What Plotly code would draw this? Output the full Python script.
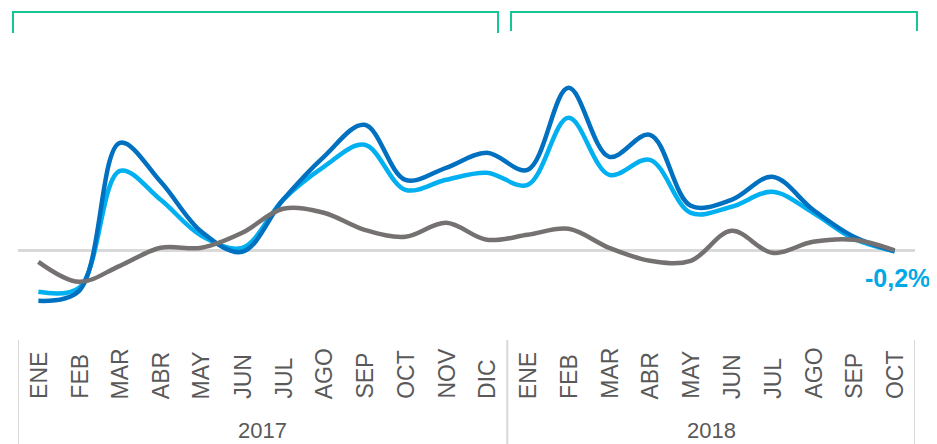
import plotly.graph_objects as go

months = ["ENE", "FEB", "MAR", "ABR", "MAY", "JUN", "JUL", "AGO", "SEP", "OCT", "NOV", "DIC",
          "ENE", "FEB", "MAR", "ABR", "MAY", "JUN", "JUL", "AGO", "SEP", "OCT"]
years = ["2017", "2018"]
months_per_year = [12, 10]

serie_oscura = [-10.1, -8.1, 21.5, 13.7, 3.7, -0.3, 10.1, 18.7, 25.1, 14.1, 16.5, 19.5,
                16.1, 32.5, 18.7, 23.1, 8.9, 10.1, 14.7, 8.1, 2.7, -0.2]
serie_clara = [-8.3, -7.5, 15.9, 10.1, 2.9, 0.5, 10.1, 16.7, 21.1, 12.1, 14.1, 15.5,
               13.1, 26.5, 15.1, 18.1, 7.5, 8.7, 11.7, 7.5, 2.3, -0.2]
serie_gris = [-2.3, -6.3, -3.1, 0.5, 0.5, 3.5, 8.3, 7.5, 4.1, 2.7, 5.5, 2.1,
              3.1, 4.3, 0.5, -2.1, -2.1, 3.9, -0.5, 1.7, 2.1, 0.0]

x = list(range(len(months)))

fig = go.Figure()
for vals, color in [(serie_clara, "#00B0F0"), (serie_oscura, "#0070C0"), (serie_gris, "#767171")]:
    fig.add_trace(go.Scatter(x=x, y=vals, mode="lines",
                             line=dict(color=color, width=4.5, shape="spline", smoothing=1),
                             hoverinfo="skip", showlegend=False))

# page body has an 8px margin; work in reference-pixel coordinates and offset
OFF = 8
W, H = 937 - OFF, 444 - OFF
L, R, T, B = 18 - OFF, 22, 0, 114
ph = H - T - B
pw = W - L - R
ZERO = 250.3 - OFF  # zero line in figure px
SCALE = 5.0  # px per unit

def py(px_ref):
    return (H - B - (px_ref - OFF)) / ph

def pxx(px_ref):
    return (px_ref - OFF - L) / pw

FONT = "Liberation Sans, Arial"
annotations = []
for i, m in enumerate(months):
    annotations.append(dict(x=i, y=py(401), xref="x", yref="paper", text=m, textangle=-90,
                            showarrow=False, xanchor="center", yanchor="bottom",
                            font=dict(family=FONT, size=23, color="#595959")))

start = 0
for yr, n in zip(years, months_per_year):
    annotations.append(dict(x=start + (n - 1) / 2, y=py(431), xref="x", yref="paper", text=yr,
                            showarrow=False, xanchor="center", yanchor="middle",
                            font=dict(family=FONT, size=22, color="#595959")))
    start += n

last = serie_clara[-1]
annotations.append(dict(x=len(months) - 1, y=last, xref="x", yref="y",
                        text="<b>" + ("%.1f%%" % last).replace(".", ",") + "</b>", showarrow=False,
                        xanchor="center", yanchor="middle", xshift=3, yshift=-27,
                        font=dict(family=FONT, size=25, color="#00A9E6")))

shapes = []
bounds = [-0.5]
acc = -0.5
for n in months_per_year:
    acc += n
    bounds.append(acc)
for b in bounds:
    shapes.append(dict(type="line", xref="x", yref="paper", x0=b, x1=b, y0=py(340), y1=py(450),
                       line=dict(color="#D9D9D9", width=2)))

green = "#14C795"
for x0p, x1p, yb in [(13, 498, 33), (511, 917, 31)]:
    a, b_ = pxx(x0p), pxx(x1p)
    yt = py(12)
    ybp = py(yb)
    path = f"M {a},{ybp} L {a},{yt} L {b_},{yt} L {b_},{ybp}"
    shapes.append(dict(type="path", xref="paper", yref="paper", path=path,
                       line=dict(color=green, width=2)))

fig.update_layout(
    width=W, height=H,
    margin=dict(l=L, r=R, t=T, b=B, pad=0),
    paper_bgcolor="white", plot_bgcolor="white",
    xaxis=dict(range=[-0.5, len(months) - 0.5], showgrid=False, zeroline=False,
               showticklabels=False, showline=False, fixedrange=True),
    yaxis=dict(range=[(ZERO - (H - B)) / SCALE, ZERO / SCALE], showgrid=False,
               zeroline=True, zerolinecolor="#D9D9D9", zerolinewidth=2.5,
               showticklabels=False, showline=False, fixedrange=True),
    annotations=annotations, shapes=shapes,
)

fig.write_html("out.html")
